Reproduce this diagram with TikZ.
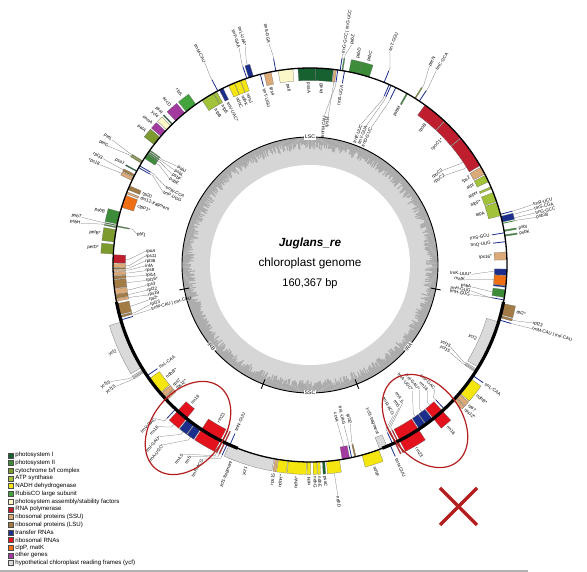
\documentclass[tikz,border=0pt]{standalone}
\usepackage{fontspec}
\setmainfont{Liberation Sans}
\definecolor{cPSI}{HTML}{17602F}
\definecolor{cPSII}{HTML}{3C8C3A}
\definecolor{cCYT}{HTML}{7D9A2E}
\definecolor{cATP}{HTML}{A2C23A}
\definecolor{cNDH}{HTML}{F5E60F}
\definecolor{cRUB}{HTML}{43A33C}
\definecolor{cPAF}{HTML}{FCF7C8}
\definecolor{cRPO}{HTML}{BE1E2D}
\definecolor{cSSU}{HTML}{DCAA78}
\definecolor{cLSU}{HTML}{A27B45}
\definecolor{cTRN}{HTML}{1C2E8C}
\definecolor{cRRN}{HTML}{E3121D}
\definecolor{cCLP}{HTML}{EE6F14}
\definecolor{cOTH}{HTML}{A23A9F}
\definecolor{cYCF}{HTML}{DADADA}
\definecolor{cMARK}{HTML}{B41E1E}
\newcounter{nn}
\newcommand\gBox[4]{%
  \pgfmathsetmacro\gR{197+12.5*(#3)}%
  \filldraw[fill=#4,draw=black!60,line width=0.2pt] (#1:197pt) arc[start angle=#1,end angle=#2,radius=197pt] -- (#2:\gR pt) arc[start angle=#2,end angle=#1,radius=\gR pt] -- cycle;}
\newcommand\gTr[3]{%
  \pgfmathsetmacro\gR{197+12.5*(#2)}%
  \draw[#3,line width=0.8pt] (#1:197pt) -- (#1:\gR pt);}
\newcommand\gLab[4]{%
  \pgfmathtruncatemacro\gIsl{cos(#1)<0 ? 1 : 0}%
  \pgfmathtruncatemacro\gSg{(#2)*(1-2*\gIsl)}%
  \pgfmathsetmacro\gRot{#1+180*\gIsl}%
  \stepcounter{nn}%
  \ifnum\gSg>0 \node[lbl,anchor=west,rotate=\gRot] (n\thenn) at (#1:#3 pt) {#4};%
  \else \node[lbl,anchor=east,rotate=\gRot] (n\thenn) at (#1:#3 pt) {#4};\fi}
\newcommand\gLD[3]{\pgfmathsetmacro\gRl{197+14.5*(#2)}\gLab{#1}{#2}{\gRl}{#3}}
\newcommand\gLF[5]{%
  \pgfmathsetmacro\gRa{197+12.5*(#3)}%
  \pgfmathsetmacro\gRb{197+16*(#3)}%
  \draw[ldr] (#1:\gRa pt) -- (#1:\gRb pt) -- (#2:#4 pt);%
  \gLab{#2}{#3}{#4}{#5}}
\newcommand\irBox[4]{\gBox{#1}{#2}{#3}{#4}\pgfmathsetmacro\gMa{180-(#2)}\pgfmathsetmacro\gMb{180-(#1)}\gBox{\gMa}{\gMb}{-(#3)}{#4}}
\newcommand\irTr[3]{\gTr{#1}{#2}{#3}\pgfmathsetmacro\gMa{180-(#1)}\gTr{\gMa}{-(#2)}{#3}}
\newcommand\irLD[3]{\gLD{#1}{#2}{#3}\pgfmathsetmacro\gMa{180-(#1)}\gLD{\gMa}{-(#2)}{#3}}
\newcommand\irLF[5]{\gLF{#1}{#2}{#3}{#4}{#5}\pgfmathsetmacro\gMa{180-(#1)}\pgfmathsetmacro\gMb{180-(#2)}\pgfmathsetmacro\gMr{394-(#4)}\gLF{\gMa}{\gMb}{-(#3)}{\gMr}{#5}}
\newcommand\legItem[3]{%
  \pgfmathsetmacro\gYy{-190.3-7.7*#1}%
  \filldraw[fill=#2,draw=black!70,line width=0.25pt] (-301.5,\gYy-2.5) rectangle ++(5,5);
  \node[anchor=west,inner sep=0pt,font=\fontsize{6.1}{7}\selectfont] (lg#1) at (-294.8,\gYy) {#3};}
\begin{document}
\begin{tikzpicture}[x=1pt,y=1pt,
  lbl/.style={font=\fontsize{4.5}{5}\selectfont, inner sep=0.2pt},
  ldr/.style={draw=black!55, line width=0.25pt}]
\useasboundingbox (-310,-307) rectangle (277,265);
\fill[white] (-310,-307) rectangle (277,265);
% ---------- inner GC ring ----------
\fill[black!16] (0,0) circle (128pt);
\pgfmathsetseed{7}
\foreach \a in {0,0.5,...,359.5}{%
  \pgfmathsetmacro\gQ{115+8*rnd}%
  \draw[black!33,line width=1.15pt] (\a:\gQ pt) -- (\a:128pt);}
\fill[white] (0,0) circle (100pt);
\draw[line width=0.9pt] (0,0) circle (128pt);
\foreach \a in {190.8,248.5,291.5,349.2}{\draw[line width=0.9pt] (\a:123pt) -- (\a:133pt);}
\node[fill=white,inner sep=0.7pt,font=\fontsize{5.2}{6}\selectfont] (lsc) at (90:128pt) {LSC};
\node[fill=white,inner sep=0.7pt,font=\fontsize{5.2}{6}\selectfont] (ssc) at (270:128pt) {SSC};
\node[fill=white,inner sep=0.7pt,font=\fontsize{5.2}{6}\selectfont,rotate=50.35] (ira) at (320.35:128pt) {IRA};
\node[fill=white,inner sep=0.7pt,font=\fontsize{5.2}{6}\selectfont,rotate=-50.35] (irb) at (219.65:128pt) {IRB};
% ---------- centre text ----------
\node[anchor=base,inner sep=0pt,font=\fontsize{11.8}{13}\selectfont\bfseries\itshape] (t1) at (0,18) {Juglans\_re};
\node[anchor=base,inner sep=0pt,font=\fontsize{11.8}{13}\selectfont] (t2) at (0,-2) {chloroplast genome};
\node[anchor=base,inner sep=0pt,font=\fontsize{11}{13}\selectfont] (t3) at (0,-22) {160,367 bp};
% ---------- LSC genes ----------
\gBox{-9.5}{-7.2}{-1}{cPSII}
\gTr{-10.2}{-1}{cTRN}
\gBox{-3.0}{-1.2}{-1}{cTRN}
\gBox{-6.0}{-3.1}{-1}{cCLP}
\gBox{-6.5}{-6.1}{-1}{cTRN}
\gBox{1.5}{3.8}{-1}{cSSU}
\gTr{6.8}{-1}{cTRN}
\gBox{8.4}{8.8}{1}{cPSII}
\gBox{9.8}{10.2}{1}{cPSII}
\gTr{9.4}{-1}{cTRN}
\gBox{12.6}{14.3}{1}{cTRN}
\gTr{14.9}{1}{cTRN}
\gTr{12.2}{1}{cPSII}
\gBox{14.5}{18.5}{-1}{cATP}
\gBox{18.8}{21.6}{-1}{cATP}
\gBox{22.8}{23.4}{-1}{cATP}
\gBox{25}{27.1}{-1}{cATP}
\gBox{27.5}{29.8}{-1}{cSSU}
\gBox{30.3}{40}{-1}{cRPO}
\gBox{40.2}{46.8}{-1}{cRPO}
\gBox{47}{54.3}{-1}{cRPO}
\gTr{56.3}{1}{cTRN}
\gBox{57.6}{57.9}{1}{cCYT}
\gBox{60.3}{60.7}{-1}{cPSII}
\gTr{64.2}{-1}{cTRN}
\gTr{65.7}{-1}{cTRN}
\gTr{66.3}{-1}{cTRN}
\gTr{67.9}{1}{cTRN}
\gBox{72.5}{75.6}{1}{cPSII}
\gBox{75.6}{78.6}{1}{cPSII}
\gTr{79.9}{-1}{cTRN}
\gBox{80.4}{80.7}{1}{cPSII}
\gTr{81.2}{1}{cTRN}
\gTr{81.9}{-1}{cTRN}
\gBox{82.3}{83.0}{-1}{cSSU}
\gBox{83.2}{88.4}{-1}{cPSI}
\gBox{88.4}{93.5}{-1}{cPSI}
\gBox{95}{99.3}{-1}{cPAF}
\gTr{100}{1}{cTRN}
\gBox{101.4}{103.5}{-1}{cSSU}
\gTr{104.6}{-1}{cTRN}
\gBox{106.7}{108.1}{1}{cTRN}
\gTr{108.7}{1}{cTRN}
\gBox{109.2}{110.6}{-1}{cNDH}
\gBox{110.7}{112.5}{-1}{cNDH}
\gBox{112.6}{114.4}{-1}{cNDH}
\gBox{116.2}{117.4}{-1}{cTRN}
\gTr{117.9}{1}{cTRN}
\gBox{118.3}{119.3}{-1}{cATP}
\gBox{119.4}{123.2}{-1}{cATP}
\gBox{125.4}{128.9}{1}{cRUB}
\gBox{129.5}{133}{1}{cOTH}
\gBox{134.2}{134.5}{1}{cPSI}
\gBox{135}{136.7}{1}{cPAF}
\gBox{137.2}{139.2}{1}{cOTH}
\gBox{139.6}{142.3}{1}{cCYT}
\gBox{144.3}{144.6}{-1}{cPSII}
\gBox{144.9}{145.2}{-1}{cPSII}
\gBox{145.4}{145.8}{-1}{cPSII}
\gBox{145.9}{147.2}{-1}{cPSII}
\gBox{148.1}{148.4}{1}{cCYT}
\gBox{148.6}{148.9}{1}{cCYT}
\gTr{149.8}{-1}{cTRN}
\gTr{150.4}{-1}{cTRN}
\gBox{151.4}{151.7}{1}{cPSI}
\gBox{152.7}{153.4}{1}{cLSU}
\gBox{153.6}{154.6}{1}{cSSU}
\gBox{156.3}{157.5}{-1}{cLSU}
\gBox{158.2}{158.8}{-1}{cSSU}
\gBox{159.3}{163}{-1}{cCLP}
\gBox{164.4}{168}{1}{cPSII}
\gBox{168.3}{168.5}{1}{cPSII}
\gBox{168.8}{169.1}{1}{cPSII}
\gBox{168.5}{168.8}{-1}{cPSII}
\gBox{169.7}{173.3}{1}{cCYT}
\gBox{174}{176.8}{1}{cCYT}
\gBox{177}{179.4}{-1}{cRPO}
\gBox{179.6}{180.8}{-1}{cSSU}
\gBox{180.9}{181.2}{-1}{cLSU}
\gBox{181.4}{181.9}{-1}{cSSU}
\gBox{182.1}{183}{-1}{cSSU}
\gBox{183.2}{184.1}{-1}{cLSU}
\gBox{184.3}{186.8}{-1}{cLSU}
\gBox{187}{188.6}{-1}{cSSU}
\gBox{188.7}{189.7}{-1}{cLSU}
\gBox{189.8}{190.6}{-1}{cSSU}
% ---------- inverted repeats ----------
\irBox{-14.6}{-11.3}{1}{cLSU}
\irBox{-15.5}{-14.9}{1}{cLSU}
\irTr{-16.2}{1}{cTRN}
\irBox{-31.3}{-16.8}{-1}{cYCF}
\irBox{-32.4}{-32.0}{-1}{cYCF}
\irBox{-32.9}{-32.6}{-1}{cYCF}
\irTr{-34.2}{1}{cTRN}
\irBox{-40.5}{-35.3}{1}{cNDH}
\irBox{-42.2}{-40.8}{1}{cSSU}
\irBox{-43.4}{-42.4}{1}{cSSU}
\irTr{-47}{-1}{cTRN}
\irBox{-51.2}{-47.8}{-1}{cRRN}
\irBox{-51.2}{-47.8}{1}{cRRN}
\irBox{-53.9}{-51.5}{-1}{cTRN}
\irBox{-56.3}{-54.1}{-1}{cTRN}
\irBox{-62.9}{-56.6}{-1}{cRRN}
\irBox{-62.9}{-56.6}{1}{cRRN}
\irBox{-63.7}{-63.4}{-1}{cRRN}
\irBox{-63.7}{-63.4}{1}{cRRN}
\irBox{-64.5}{-64.2}{-1}{cRRN}
\irBox{-64.5}{-64.2}{1}{cRRN}
\irTr{-65.2}{-1}{cTRN}
\irTr{-66}{1}{cTRN}
\irBox{-69.3}{-67}{-1}{cYCF}
% ---------- SSC ----------
\gBox{245.8}{259.5}{1}{cYCF}
\gBox{259.8}{260.6}{1}{cSSU}
\gBox{260.8}{263.5}{1}{cNDH}
\gBox{263.7}{269}{1}{cNDH}
\gBox{269.2}{270.2}{1}{cNDH}
\gBox{270.9}{272}{1}{cNDH}
\gBox{272.2}{272.9}{1}{cNDH}
\gBox{273.6}{274.3}{1}{cPSI}
\gBox{274.8}{278.6}{1}{cNDH}
\gBox{279.4}{281.6}{-1}{cOTH}
\gTr{282.2}{-1}{cTRN}
\gBox{283.1}{283.5}{-1}{cLSU}
\gBox{285.3}{290.4}{1}{cNDH}
% ---------- genome circle ----------
\draw[line width=1.3pt] (0,0) circle (197pt);
\draw[line width=3.2pt] (190.8:197pt) arc[start angle=190.8,end angle=248.5,radius=197pt];
\draw[line width=3.2pt] (291.5:197pt) arc[start angle=291.5,end angle=349.2,radius=197pt];
% ---------- LSC labels ----------
\gLF{-8.3}{-7.7}{-1}{163}{psbA}
\gLF{-10.2}{-9.1}{-1}{163}{trnH-GUG}
\gLF{-10.2}{-10.5}{-1}{163}{trnH-GUG}
\gLF{-2.1}{-3.3}{-1}{162}{trnK-UUU*}
\gLF{-4.5}{-5.2}{-1}{156}{matK}
\gLD{2.6}{-1}{rps16*}
\gLD{6.8}{-1}{trnQ-UUG}
\gLD{8.6}{1}{psbK}
\gLD{10}{1}{psbI}
\gLD{9.4}{-1}{trnS-GCU}
\gLF{14.9}{15.2}{1}{231}{trnR-UCU}
\gLF{14}{14.1}{1}{231}{trnS-CGA}
\gLF{13}{13}{1}{231}{trnG-GCC}
\gLF{12.2}{11.9}{1}{231}{psb30}
\gLD{16.5}{-1}{atpA}
\gLD{20.2}{-1}{atpF*}
\gLD{23.1}{-1}{atpH}
\gLD{26}{-1}{atpI}
\gLD{28.6}{-1}{rps2}
\gLF{34}{35.5}{-1}{163}{rpoC2}
\gLF{32}{33.6}{-1}{162}{rpoC2}
\gLD{43.5}{-1}{rpoC1*}
\gLD{50.6}{-1}{rpoB}
\gLF{56.3}{57}{1}{232}{trnC-GCA}
\gLF{57.7}{59}{1}{232}{petN}
\gLD{60.5}{-1}{psbM}
\gLF{64.2}{66}{-1}{150}{trnD-GUC}
\gLF{65.7}{68}{-1}{150}{trnY-GUA}
\gLF{66.3}{70}{-1}{150}{trnE-UUC}
\gLF{67.9}{69.5}{1}{228}{trnT-GGU}
\gLD{74}{1}{psbC}
\gLD{77}{1}{psbD}
\gLD{79.9}{-1}{trnS-UGA}
\gLF{80.5}{79.3}{1}{224}{psbZ}
\gLF{81.2}{81}{1}{214}{trnG-GCC | trnG-UCC}
\gLF{81.9}{84.5}{-1}{150}{trnfM-CAU}
\gLF{82.6}{83}{-1}{150}{rps14}
\gLD{86.3}{-1}{psaB}
\gLD{90.5}{-1}{psaA}
\gLD{97}{-1}{pafI}
\gLF{100}{100.5}{1}{225}{trnS-GGA}
\gLD{102.4}{-1}{rps4}
\gLD{104.6}{-1}{trnT-UGU}
\gLF{107.4}{106.5}{1}{228}{trnL-UAA*}
\gLF{108.7}{108.1}{1}{228}{trnF-GAA}
\gLD{109.9}{-1}{ndhJ}
\gLD{111.6}{-1}{ndhK}
\gLD{113.5}{-1}{ndhC}
\gLD{116.8}{-1}{trnV-UAC*}
\gLF{117.9}{117.5}{1}{228}{trnM-CAU}
\gLD{118.8}{-1}{atpE}
\gLD{121.3}{-1}{atpB}
\gLD{127.1}{1}{rbcL}
\gLD{131.2}{1}{accD}
\gLD{134.3}{1}{psaI}
\gLD{135.9}{1}{ycf4}
\gLD{138.2}{1}{cemA}
\gLD{141}{1}{petA}
\gLF{144.5}{143.3}{-1}{165}{psbJ}
\gLF{145}{145}{-1}{165}{psbL}
\gLF{145.6}{146.7}{-1}{165}{psbF}
\gLF{146.5}{148.4}{-1}{165}{psbE}
\gLF{148.2}{147.7}{1}{234}{petL}
\gLF{148.7}{149.5}{1}{234}{petG}
\gLF{149.8}{151.6}{-1}{164}{trnW-CCA}
\gLF{150.4}{153.6}{-1}{164}{trnP-UGG}
\gLD{151.5}{1}{psaJ}
\gLF{153}{152.8}{1}{233}{rpl33}
\gLF{154.1}{154.5}{1}{233}{rps18}
\gLD{156.9}{-1}{rpl20}
\gLD{158.5}{-1}{rps12-fragment}
\gLD{161.2}{-1}{clpP1*}
\gLD{165.5}{1}{psbB}
\gLF{168.4}{168.2}{1}{233}{psbT}
\gLF{168.9}{169.7}{1}{233}{psbH}
\gLF{168.6}{169.8}{-1}{176}{pbf1}
\gLD{171.5}{1}{petB*}
\gLD{175.4}{1}{petD*}
\gLF{178.2}{175.2}{-1}{165}{rpoA}
\gLF{180.2}{176.9}{-1}{165}{rps11}
\gLF{181}{178.6}{-1}{165}{rpl36}
\gLF{181.6}{180.3}{-1}{165}{infA}
\gLF{182.5}{182}{-1}{165}{rps8}
\gLF{183.6}{183.7}{-1}{165}{rpl14}
\gLF{185.5}{185.4}{-1}{165}{rpl16*}
\gLF{187.8}{187.1}{-1}{165}{rps3}
\gLF{189.2}{188.8}{-1}{165}{rpl22}
\gLF{190.2}{190.5}{-1}{165}{rps19}
\gLF{192.9}{192.2}{-1}{165}{rpl2*}
\gLF{195.2}{193.9}{-1}{165}{rpl23}
\gLF{195.8}{195.6}{-1}{165}{trnM-CAU | trnI-CAU}
\gLD{-12.9}{1}{rpl2*}
\gLF{-15.2}{-14.6}{1}{230}{rpl23}
\gLF{-16.2}{-16}{1}{231}{trnM-CAU | trnI-CAU}
% ---------- IR labels (mirrored) ----------
\irLD{-24}{-1}{ycf2}
\irLF{-32.2}{-30.3}{-1}{163}{ycf15}
\irLF{-32.75}{-32}{-1}{165}{ycf15}
\irLD{-34.2}{1}{trnL-CAA}
\irLD{-38}{1}{ndhB*}
\irLD{-41.5}{1}{rps7}
\irLD{-43}{1}{rps12*}
\irLD{-49.5}{1}{rrn16}
\irLD{-59.8}{1}{rrn23}
\irLD{-66}{1}{trnN-GUU}
\irLD{-68.2}{-1}{ycf1-fragment}
\irLF{-47}{-44.8}{-1}{176}{trnV-GAC}
\irLF{-49.5}{-46.8}{-1}{172}{rrn16}
\irLF{-52.7}{-48.8}{-1}{166}{trnI-GAU*}
\irLF{-55.2}{-50.8}{-1}{162}{trnA-UGC*}
\irLF{-63.55}{-56}{-1}{166}{rrn4.5}
\irLF{-64.35}{-58}{-1}{168}{rrn5}
\irLF{-65.2}{-61}{-1}{172}{trnR-ACG}
% ---------- SSC labels ----------
\gLD{252.5}{1}{ycf1}
\gLD{260.2}{1}{rps15}
\gLD{262.2}{1}{ndhH*}
\gLD{266.3}{1}{ndhA*}
\gLD{269.7}{1}{ndhI}
\gLD{271.4}{1}{ndhG}
\gLD{272.6}{1}{ndhE}
\gLD{274}{1}{psaC}
\gLF{276.7}{276.9}{1}{233}{ndhD}
\gLF{280.5}{279.8}{-1}{160}{ccsA}
\gLF{282.2}{282}{-1}{164}{trnL-UAG}
\gLF{283.3}{284.2}{-1}{164}{rpl32}
\gLD{287.8}{1}{ndhF}
% ---------- highlight marks ----------
\begin{scope}[shift={(115,-156)},rotate=-52]
\draw[cMARK,line width=1.2pt] (0,0) ellipse[x radius=52pt,y radius=36pt];
\end{scope}
\begin{scope}[shift={(-122,-163)},rotate=52]
\draw[cMARK,line width=1.2pt] (0,0) ellipse[x radius=52pt,y radius=36pt];
\end{scope}
\draw[cMARK,line width=3.2pt] (130,-223) -- (167,-260);
\draw[cMARK,line width=3.2pt] (167,-223) -- (130,-260);
% ---------- legend ----------
\legItem{0}{cPSI}{photosystem I}
\legItem{1}{cPSII}{photosystem II}
\legItem{2}{cCYT}{cytochrome b/f complex}
\legItem{3}{cATP}{ATP synthase}
\legItem{4}{cNDH}{NADH dehydrogenase}
\legItem{5}{cRUB}{RubisCO large subunit}
\legItem{6}{cPAF}{photosystem assembly/stability factors}
\legItem{7}{cRPO}{RNA polymerase}
\legItem{8}{cSSU}{ribosomal proteins (SSU)}
\legItem{9}{cLSU}{ribosomal proteins (LSU)}
\legItem{10}{cTRN}{transfer RNAs}
\legItem{11}{cRRN}{ribosomal RNAs}
\legItem{12}{cCLP}{clpP, matK}
\legItem{13}{cOTH}{other genes}
\legItem{14}{cYCF}{hypothetical chloroplast reading frames (ycf)}
\draw[black!30,line width=1.3pt] (-310,-306) -- (218,-306);
\end{tikzpicture}
\end{document}
